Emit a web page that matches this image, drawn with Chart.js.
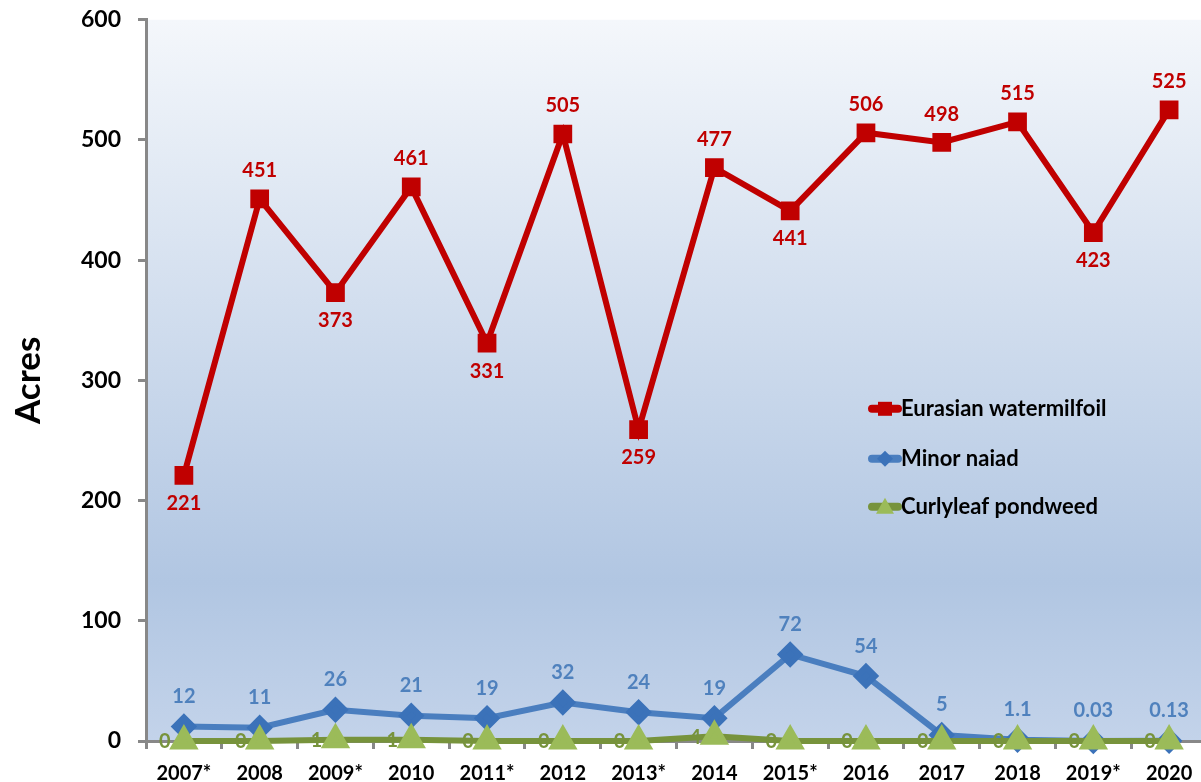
<!DOCTYPE html>
<html>
<head>
<meta charset="utf-8">
<script src="https://cdn.jsdelivr.net/npm/chart.js@4.4.1/dist/chart.umd.min.js"></script>
<style>
  html, body { margin: 0; padding: 0; background: #fff; overflow: hidden; }
  canvas { display: block; margin-top: -11px; }
</style>
</head>
<body>
<canvas id="weedChart" width="1224" height="793"></canvas>
<script>
const years = ["2007*", "2008", "2009*", "2010", "2011*", "2012", "2013*", "2014", "2015*", "2016", "2017", "2018", "2019*", "2020"];
const watermilfoil = [221, 451, 373, 461, 331, 505, 259, 477, 441, 506, 498, 515, 423, 525];
const naiad = [12, 11, 26, 21, 19, 32, 24, 19, 72, 54, 5, 1.1, 0.03, 0.13];
const pondweed = [0, 0, 1, 1, 0, 0, 0, 4, 0, 0, 0, 0, 0, 0];
const yTicks = [0, 100, 200, 300, 400, 500, 600];

// which side of the red marker each label sits on
const milfoilSide = ["below", "above", "below", "above", "below", "above", "below", "above", "below", "above", "above", "above", "below", "above"];

const FONT = "Lato, 'Open Sans', sans-serif";

const plotBg = {
    id: "plotBg",
    beforeDraw(chart) {
        const a = chart.chartArea;
        const c = chart.ctx;
        const g = c.createLinearGradient(0, a.top, 0, a.bottom);
        g.addColorStop(0, "#f4f7fb");
        g.addColorStop(0.78, "#b1c6e2");
        g.addColorStop(1, "#c3d3ea");
        c.save();
        c.fillStyle = g;
        c.fillRect(a.left, a.top, a.right - a.left, a.bottom - a.top);
        c.restore();
    }
};

const valueLabels = {
    id: "valueLabels",
    afterDatasetsDraw(chart) {
        const c = chart.ctx;
        c.save();
        c.font = "bold 20px " + FONT;
        c.textAlign = "center";
        c.textBaseline = "middle";
        chart.data.datasets.forEach((ds, i) => {
            const meta = chart.getDatasetMeta(i);
            meta.data.forEach((pt, j) => {
                const txt = String(ds.data[j]);
                c.fillStyle = ds.labelColor;
                if (i === 0) {
                    const dy = milfoilSide[j] === "above" ? -28 : 28;
                    c.fillText(txt, pt.x, pt.y + dy);
                } else if (i === 1) {
                    c.fillText(txt, pt.x, pt.y - 30);
                } else {
                    c.fillText(txt, pt.x - 19, pt.y + 1);
                }
            });
        });
        c.restore();
    }
};

const sideLegend = {
    id: "sideLegend",
    afterDraw(chart) {
        const c = chart.ctx;
        const x0 = chart.chartArea.left + 722;
        const top = chart.chartArea.top;
        const rows = [top + 389, top + 439, top + 487];
        c.save();
        chart.data.datasets.forEach((ds, i) => {
            const y = rows[i];
            c.strokeStyle = ds.borderColor;
            c.lineWidth = 8;
            c.lineCap = "round";
            c.beginPath();
            c.moveTo(x0 + 4, y);
            c.lineTo(x0 + 30, y);
            c.stroke();
            c.fillStyle = ds.pointBackgroundColor;
            c.beginPath();
            if (ds.pointStyle === "rect") {
                c.rect(x0 + 10, y - 7, 14, 14);
            } else if (ds.pointStyle === "rectRot") {
                c.moveTo(x0 + 17, y - 8);
                c.lineTo(x0 + 25, y);
                c.lineTo(x0 + 17, y + 8);
                c.lineTo(x0 + 9, y);
                c.closePath();
            } else {
                c.moveTo(x0 + 17, y - 9);
                c.lineTo(x0 + 26, y + 7);
                c.lineTo(x0 + 8, y + 7);
                c.closePath();
            }
            c.fill();
            c.fillStyle = "#000";
            c.font = "bold 22px " + FONT;
            c.textAlign = "left";
            c.textBaseline = "middle";
            c.fillText(ds.label, x0 + 33, y);
        });
        c.restore();
    }
};

new Chart(document.getElementById("weedChart"), {
    type: "line",
    data: {
        labels: years,
        datasets: [
            {
                label: "Eurasian watermilfoil",
                data: watermilfoil,
                borderColor: "#c00000",
                pointBackgroundColor: "#c00000",
                pointBorderColor: "#c00000",
                labelColor: "#c00000",
                borderWidth: 6,
                pointStyle: "rect",
                pointRadius: 9,
                tension: 0,
                order: 2,
                clip: false
            },
            {
                label: "Minor naiad",
                data: naiad,
                borderColor: "#4a7ebf",
                pointBackgroundColor: "#3b72b9",
                pointBorderColor: "#3b72b9",
                labelColor: "#4f81bd",
                borderWidth: 6,
                pointStyle: "rectRot",
                pointRadius: 9,
                tension: 0,
                order: 1,
                clip: false
            },
            {
                label: "Curlyleaf pondweed",
                data: pondweed,
                borderColor: "#77933c",
                pointBackgroundColor: "#9bbb59",
                pointBorderColor: "#9bbb59",
                labelColor: "#77933c",
                borderWidth: 6,
                pointStyle: "triangle",
                pointRadius: 11,
                tension: 0,
                order: 0,
                clip: false
            }
        ]
    },
    options: {
        responsive: false,
        animation: false,
        layout: {
            padding: 0
        },
        plugins: {
            legend: { display: false },
            tooltip: { enabled: false }
        },
        scales: {
            x: {
                offset: true,
                afterFit(axis) { axis.height = 41; },
                grid: {
                    offset: true,
                    drawOnChartArea: false,
                    tickLength: 8,
                    tickColor: "#888888",
                    tickWidth: 3
                },
                border: { color: "#888888", width: 3 },
                ticks: {
                    color: "#000",
                    padding: 13,
                    maxRotation: 0,
                    autoSkip: false,
                    font: { family: FONT, weight: "bold", size: 20 }
                }
            },
            y: {
                min: 0,
                max: 600,
                afterFit(axis) { axis.width = 146; },
                afterBuildTicks(axis) { axis.ticks = yTicks.map(v => ({ value: v })); },
                grid: {
                    drawOnChartArea: false,
                    tickLength: 8,
                    tickColor: "#888888",
                    tickWidth: 3
                },
                border: { color: "#888888", width: 3 },
                ticks: {
                    color: "#000",
                    padding: 17,
                    font: { family: FONT, weight: "bold", size: 23 }
                },
                title: {
                    display: true,
                    text: "Acres",
                    color: "#000",
                    padding: { top: 8, bottom: 0 },
                    font: { family: FONT, weight: "bold", size: 35 }
                }
            }
        }
    },
    plugins: [plotBg, valueLabels, sideLegend]
});
</script>
</body>
</html>
